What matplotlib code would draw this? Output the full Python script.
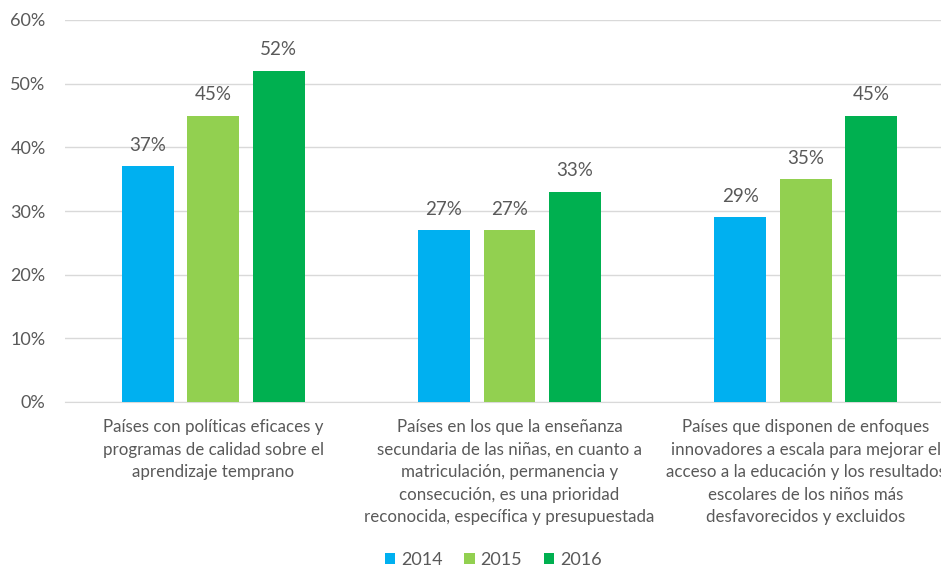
import numpy as np
import matplotlib.pyplot as plt
from matplotlib.ticker import PercentFormatter

plt.rcParams['font.family'] = ['Lato', 'DejaVu Sans']

# --- data ---
categories = [
    'Países con políticas eficaces y\nprogramas de calidad sobre el\naprendizaje temprano',
    'Países en los que la enseñanza\nsecundaria de las niñas, en cuanto a\nmatriculación, permanencia y\n'
    'consecución, es una prioridad\nreconocida, específica y presupuestada',
    'Países que disponen de enfoques\ninnovadores a escala para mejorar el\nacceso a la educación y los resultados\n'
    'escolares de los niños más\ndesfavorecidos y excluidos',
]
years = ['2014', '2015', '2016']
values_2014 = [37, 27, 29]
values_2015 = [45, 27, 35]
values_2016 = [52, 33, 45]
colors = ['#00B0F0', '#92D050', '#00B050']
text_grey = '#595959'


def main():
    fig = plt.figure(figsize=(9.41, 5.68), dpi=100)
    ax = fig.add_axes([65 / 941, 166 / 568, 889 / 941, 382 / 568])

    x = np.arange(len(categories))
    width = 0.175
    step = 0.221
    series = [values_2014, values_2015, values_2016]
    for i, (year, vals, col) in enumerate(zip(years, series, colors)):
        bars = ax.bar(x + (i - 1) * step, vals, width, color=col, label=year, zorder=3)
        for b, v in zip(bars, vals):
            ax.annotate(f'{v}%', (b.get_x() + b.get_width() / 2, v),
                        xytext=(0, 9), textcoords='offset points',
                        ha='center', va='bottom', fontsize=13.5, color=text_grey)

    ax.set_xlim(-0.5, len(categories) - 0.5)
    ax.set_ylim(0, 60)
    ax.yaxis.set_major_formatter(PercentFormatter(decimals=0))
    ax.set_yticks(np.arange(0, 61, 10))
    ax.grid(axis='y', color='#D9D9D9', lw=1, zorder=0)
    for s in ['top', 'right', 'left']:
        ax.spines[s].set_visible(False)
    ax.spines['bottom'].set_color('#D9D9D9')
    ax.tick_params(axis='y', length=0, pad=14, labelsize=13, labelcolor=text_grey)

    # category labels wrapped as in the original; the last one runs off the right edge
    ax.set_xticks(x)
    ax.set_xticklabels(categories, fontsize=12.2, color=text_grey, linespacing=1.5)
    ax.tick_params(axis='x', length=0, pad=12.5)

    ax.legend(loc='center', bbox_to_anchor=(428 / 889, -158 / 382), ncol=3,
              frameon=False, fontsize=13, labelcolor=text_grey, borderpad=0.1,
              handlelength=0.6, handleheight=0.6, handletextpad=0.3, columnspacing=1.2)

    fig.savefig('out.png', dpi=100)


if __name__ == "__main__":
    main()
